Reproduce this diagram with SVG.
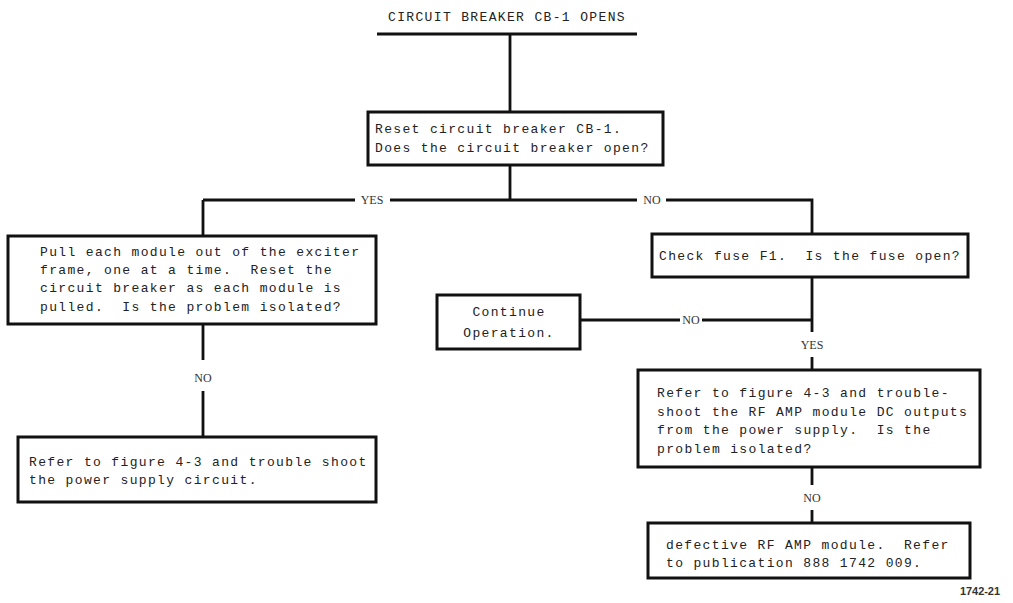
<svg xmlns="http://www.w3.org/2000/svg" width="1013" height="603" viewBox="0 0 1013 603">
<style>
.box{fill:#fff;stroke:#111;stroke-width:3}
.t{font-family:"Liberation Mono",monospace;font-size:13px;letter-spacing:1.35px;fill:#222;white-space:pre}
.c{fill:none;stroke:#111;stroke-width:2.8}
.l{font-family:"Liberation Serif",serif;font-size:12px;fill:#333;text-anchor:middle}
</style>
<rect width="1013" height="603" fill="#fff"/>
<g id="connectors">
<path class="c" d="M377 34H637M510 34V112"/>
<path class="c" d="M510 165V200M203 200H355M390 200H637M666 200H812V234"/>
<path class="c" d="M203 200V236M203 324V360M203 391V437"/>
<path class="c" d="M812 277V332M580 320H680M702 320H812M812 357V370"/>
<path class="c" d="M812 467V485M812 510V523"/>
</g>
<g id="title">
<text class="t" x="388" y="21">CIRCUIT BREAKER CB-1 OPENS</text>
</g>
<g id="labels">
<text class="l" x="372" y="204">YES</text>
<text class="l" x="652" y="204">NO</text>
<text class="l" x="203" y="382">NO</text>
<text class="l" x="691" y="324">NO</text>
<text class="l" x="812" y="349">YES</text>
<text class="l" x="812" y="502">NO</text>
</g>
<g id="node1">
<rect class="box" x="368" y="112" width="295" height="53"/>
<text class="t" x="375" y="133">Reset circuit breaker CB-1.</text>
<text class="t" x="375" y="152">Does the circuit breaker open?</text>
</g>
<g id="node2">
<rect class="box" x="8" y="236" width="368" height="88"/>
<text class="t" x="40" y="256">Pull each module out of the exciter</text>
<text class="t" x="40" y="274" xml:space="preserve">frame, one at a time.  Reset the</text>
<text class="t" x="40" y="292">circuit breaker as each module is</text>
<text class="t" x="40" y="311" xml:space="preserve">pulled.  Is the problem isolated?</text>
</g>
<g id="node3">
<rect class="box" x="18" y="437" width="358" height="65"/>
<text class="t" x="29" y="466">Refer to figure 4-3 and trouble shoot</text>
<text class="t" x="29" y="484">the power supply circuit.</text>
</g>
<g id="node4">
<rect class="box" x="652" y="234" width="316" height="43"/>
<text class="t" x="659" y="260" xml:space="preserve">Check fuse F1.  Is the fuse open?</text>
</g>
<g id="node5">
<rect class="box" x="437" y="295" width="143" height="54"/>
<text class="t" x="509" y="316" text-anchor="middle">Continue</text>
<text class="t" x="509" y="337" text-anchor="middle">Operation.</text>
</g>
<g id="node6">
<rect class="box" x="638" y="370" width="342" height="97"/>
<text class="t" x="657" y="397">Refer to figure 4-3 and trouble-</text>
<text class="t" x="657" y="416">shoot the RF AMP module DC outputs</text>
<text class="t" x="657" y="434" xml:space="preserve">from the power supply.  Is the</text>
<text class="t" x="657" y="453">problem isolated?</text>
</g>
<g id="node7">
<rect class="box" x="648" y="523" width="322" height="55"/>
<text class="t" x="666" y="549" xml:space="preserve">defective RF AMP module.  Refer</text>
<text class="t" x="666" y="567">to publication 888 1742 009.</text>
</g>
<text x="960" y="595" font-family="'Liberation Sans',sans-serif" font-size="11" font-weight="bold" fill="#333" textLength="40">1742-21</text>
</svg>
